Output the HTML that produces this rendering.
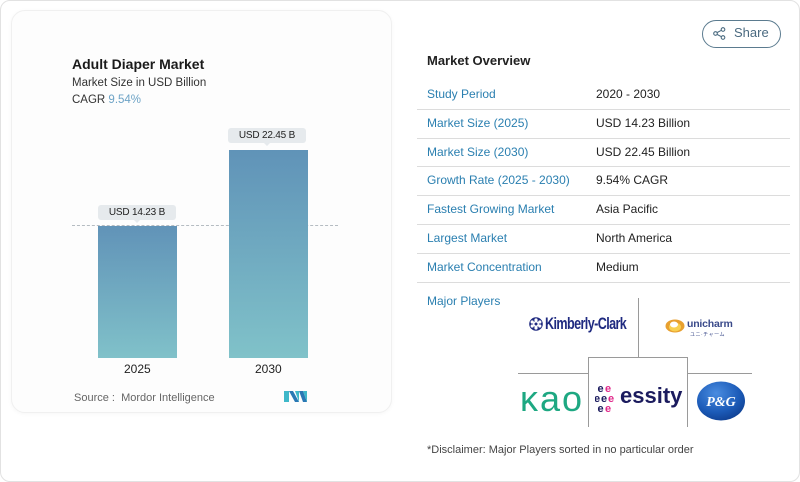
<!DOCTYPE html>
<html><head><meta charset="utf-8">
<style>
*{margin:0;padding:0;box-sizing:border-box}
html,body{width:800px;height:482px;background:#fff;overflow:hidden;font-family:"Liberation Sans","Noto Sans CJK JP",sans-serif}
.outer{position:absolute;left:0;top:0;width:800px;height:482px;border:1px solid #e2e2e2;border-radius:10px;background:#fff}
.card{position:absolute;left:11px;top:10px;width:381px;height:403px;border:1px solid #f0f0f0;border-radius:14px;background:#fdfdfd;box-shadow:0 1px 4px rgba(0,0,0,0.04)}
.t{position:absolute;white-space:nowrap}
.bar{position:absolute;background:linear-gradient(#6092b8,#80c2c9)}
.bub{position:absolute;height:15px;background:#e6eaed;border-radius:3px;font-size:10px;color:#222;text-align:center;line-height:15px;letter-spacing:-0.2px}
.bub:after{content:"";position:absolute;left:50%;bottom:-3px;margin-left:-3px;border-left:3px solid transparent;border-right:3px solid transparent;border-top:3px solid #e6eaed}
.row{position:absolute;left:417px;width:373px;height:1px;background:#dcdcdc}
.lab{position:absolute;left:427px;font-size:12px;color:#2a7fb0;white-space:nowrap}
.val{position:absolute;left:596px;font-size:12px;color:#222;white-space:nowrap}
.ln{position:absolute;background:#9a9a9a}
</style></head><body>
<div class="outer"></div>
<div class="card"></div>
<div class="t" style="left:72px;top:56px;font-size:14px;font-weight:bold;color:#1a1a1a">Adult Diaper Market</div>
<div class="t" style="left:72px;top:77px;font-size:11.5px;color:#333">Market Size in USD Billion</div>
<div class="t" style="left:72px;top:94px;font-size:11.5px;color:#333">CAGR <span style="color:#6da3c6">9.54%</span></div>

<div style="position:absolute;left:72px;top:225px;width:266px;border-top:1px dashed #b5bcc2"></div>
<div class="bar" style="left:98px;top:226px;width:79px;height:132px;background:linear-gradient(#6193b8,#80c1c9)"></div>
<div class="bar" style="left:229px;top:150px;width:79px;height:208px;background:linear-gradient(#6093b8,#80c2c9)"></div>
<div class="bub" style="left:98px;top:205px;width:78px">USD 14.23 B</div>
<div class="bub" style="left:228px;top:128px;width:78px">USD 22.45 B</div>
<div class="t" style="left:124px;top:362px;font-size:12px;color:#222">2025</div>
<div class="t" style="left:255px;top:362px;font-size:12px;color:#222">2030</div>
<div class="t" style="left:74px;top:392px;font-size:11px;color:#666">Source :&nbsp; Mordor Intelligence</div>
<svg style="position:absolute;left:284px;top:391px" width="24" height="12" viewBox="0 0 24 12">
<polygon points="0,0 5,0 5,11 0,11" fill="#3fb8c9"/>
<polygon points="5,0 9,0 15,11 11,11" fill="#2a78b4"/>
<polygon points="11,0 15,0 15,11" fill="#3fb8c9"/>
<polygon points="15,0 19,0 23,11 19,11" fill="#2a78b4"/>
<polygon points="19,0 23,0 23,11" fill="#3fb8c9"/>
</svg>

<div style="position:absolute;left:702px;top:20px;width:79px;height:28px;border:1px solid #5b7b8f;border-radius:14px"></div>
<svg style="position:absolute;left:713px;top:27px" width="13" height="13" viewBox="0 0 13 13" fill="none" stroke="#4a6a80" stroke-width="1.1">
<circle cx="10" cy="2.5" r="1.8"/><circle cx="2.5" cy="6.5" r="1.8"/><circle cx="10" cy="10.5" r="1.8"/>
<line x1="4" y1="5.6" x2="8.4" y2="3.3"/><line x1="4" y1="7.4" x2="8.4" y2="9.7"/>
</svg>
<div class="t" style="left:734px;top:25px;font-size:13px;color:#4a6a80">Share</div>

<div class="t" style="left:427px;top:53px;font-size:13px;font-weight:bold;color:#222">Market Overview</div>

<div class="lab" style="top:87px">Study Period</div><div class="val" style="top:87px">2020 - 2030</div>
<div class="row" style="top:109px"></div>
<div class="lab" style="top:116px">Market Size (2025)</div><div class="val" style="top:116px">USD 14.23 Billion</div>
<div class="row" style="top:138px"></div>
<div class="lab" style="top:145px">Market Size (2030)</div><div class="val" style="top:145px">USD 22.45 Billion</div>
<div class="row" style="top:166px"></div>
<div class="lab" style="top:173px">Growth Rate (2025 - 2030)</div><div class="val" style="top:173px">9.54% CAGR</div>
<div class="row" style="top:195px"></div>
<div class="lab" style="top:202px">Fastest Growing Market</div><div class="val" style="top:202px">Asia Pacific</div>
<div class="row" style="top:224px"></div>
<div class="lab" style="top:231px">Largest Market</div><div class="val" style="top:231px">North America</div>
<div class="row" style="top:253px"></div>
<div class="lab" style="top:260px">Market Concentration</div><div class="val" style="top:260px">Medium</div>
<div class="row" style="top:282px"></div>

<div class="lab" style="top:294px">Major Players</div>

<div class="ln" style="left:638px;top:298px;width:1px;height:60px"></div>
<div class="ln" style="left:588px;top:357px;width:100px;height:1px"></div>
<div class="ln" style="left:588px;top:357px;width:1px;height:70px"></div>
<div class="ln" style="left:687px;top:357px;width:1px;height:70px"></div>
<div class="ln" style="left:518px;top:373px;width:70px;height:1px"></div>
<div class="ln" style="left:687px;top:373px;width:65px;height:1px"></div>

<!-- Kimberly-Clark -->
<svg style="position:absolute;left:529px;top:317px" width="14" height="14" viewBox="0 0 14 14">
<circle cx="7" cy="7" r="6.8" fill="#1f2a80"/>
<circle cx="7" cy="7" r="3" fill="#fff"/>
<circle cx="7" cy="3" r="1.6" fill="#fff"/><circle cx="7" cy="11" r="1.6" fill="#fff"/>
<circle cx="3.2" cy="5" r="1.6" fill="#fff"/><circle cx="10.8" cy="5" r="1.6" fill="#fff"/>
<circle cx="3.2" cy="9" r="1.6" fill="#fff"/><circle cx="10.8" cy="9" r="1.6" fill="#fff"/>
<circle cx="7" cy="7" r="1.5" fill="#1f2a80"/>
</svg>
<div class="t" style="left:545px;top:314px;font-size:17px;font-weight:bold;color:#1f2a80;letter-spacing:-0.8px;transform:scaleX(0.74);transform-origin:left top">Kimberly-Clark</div>

<!-- unicharm -->
<svg style="position:absolute;left:665px;top:319px" width="20" height="14" viewBox="0 0 20 14">
<ellipse cx="10" cy="7" rx="9.5" ry="6.5" fill="#e8a030"/>
<ellipse cx="10" cy="8" rx="6" ry="4.5" fill="#f8d050"/>
<ellipse cx="9" cy="5.5" rx="4" ry="3" fill="#fff"/>
</svg>
<div class="t" style="left:687px;top:318px;font-size:10.5px;font-weight:bold;color:#3a4a8a;letter-spacing:-0.2px">unicharm</div>
<div class="t" style="left:690px;top:331px;font-size:5px;color:#3a4a8a;letter-spacing:0.5px">ユニ·チャーム</div>

<!-- Kao -->
<div class="t" style="left:520px;top:381px;font-size:36px;line-height:36px;color:#1ea882;letter-spacing:2px">κaο</div>

<!-- essity -->
<svg style="position:absolute;left:595px;top:383px" width="22" height="31" viewBox="0 0 22 31" font-family="Liberation Sans" font-size="11" font-weight="bold">
<text x="2.5" y="9" fill="#1b1b5e">e</text><text x="10" y="9" fill="#e0288a">e</text>
<text x="-1" y="19" fill="#1b1b5e">e</text><text x="6" y="19" fill="#1b1b5e">e</text><text x="13" y="19" fill="#e0288a">e</text>
<text x="2.5" y="29" fill="#1b1b5e">e</text><text x="10" y="29" fill="#e0288a">e</text>
</svg>
<div class="t" style="left:620px;top:385px;font-size:22px;line-height:22px;font-weight:bold;color:#1b1b5e">essity</div>

<!-- P&G -->
<svg style="position:absolute;left:696px;top:381px" width="50" height="40" viewBox="0 0 50 40">
<defs><radialGradient id="pg" cx="0.4" cy="0.3" r="0.8"><stop offset="0" stop-color="#4a8ce0"/><stop offset="0.6" stop-color="#1c5bb8"/><stop offset="1" stop-color="#0d3a8a"/></radialGradient></defs>
<ellipse cx="25" cy="20" rx="24" ry="19.5" fill="url(#pg)"/>
<text x="25" y="25" text-anchor="middle" font-family="Liberation Serif" font-style="italic" font-weight="bold" font-size="14" fill="#fff">P&amp;G</text>
</svg>

<div class="t" style="left:427px;top:444px;font-size:11px;color:#444">*Disclaimer: Major Players sorted in no particular order</div>
</body></html>
